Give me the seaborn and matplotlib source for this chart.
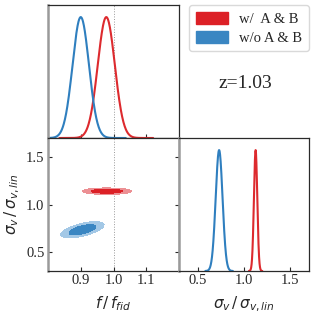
import numpy as np
import pandas as pd
import matplotlib
matplotlib.use("Agg")
import matplotlib.pyplot as plt
from matplotlib.patches import Patch
import seaborn as sns

# ---- data ----
series_labels = ["w/  A & B", "w/o A & B"]
line_colors = ["#dd2a2e", "#2f7fbf"]
dark_fill = ["#dc2026", "#3a86c2"]
light_fill = ["#ec9094", "#a3c8e6"]

# 1D marginals (peak position, width)
f_peak = [0.978, 0.900]
f_width = [0.026, 0.025]
sv_peak = [1.125, 0.732]
sv_width = [0.018, 0.037]

# 2D contours (centre, widths, correlation)
f_centre2d = [0.980, 0.905]
sv_centre2d = [1.140, 0.734]
f_width2d = [0.031, 0.027]
sv_width2d = [0.014, 0.035]
corr2d = [0.0, 0.6]

f_ticks = [0.9, 1.0, 1.1]
sv_ticks = [0.5, 1.0, 1.5]
f_lim = (0.8, 1.2)
sv_lim = (0.3, 1.7)
redshift_text = "z=1.03"
f_label = r"$f\,/\,f_{fid}$"
sv_label = r"$\sigma_v\,/\,\sigma_{v,lin}$"

# ---- style ----
sns.set_style("ticks")
plt.rcParams["font.family"] = ["Liberation Serif", "DejaVu Serif"]
plt.rcParams["mathtext.fontset"] = "dejavusans"

fig = plt.figure(figsize=(3.16, 3.17), dpi=100)
W, H = 316, 317
def rect(x0, y0, x1, y1):
    return [x0 / W, 1 - y1 / H, (x1 - x0) / W, (y1 - y0) / H]

ax_f = fig.add_axes(rect(48, 5, 179, 138))
ax_2d = fig.add_axes(rect(48, 138, 179, 271))
ax_sv = fig.add_axes(rect(179, 138, 309, 271))

def gauss(x, m, s):
    return np.exp(-0.5 * ((x - m) / s) ** 2)

# top-left: f marginal
rows = []
for lab, m, s in zip(series_labels, f_peak, f_width):
    x = np.linspace(m - 5.5 * s, m + 5.5 * s, 300)
    rows.append(pd.DataFrame({"x": x, "y": gauss(x, m, s), "series": lab}))
df_f = pd.concat(rows)
sns.lineplot(data=df_f, x="x", y="y", hue="series", palette=line_colors,
             hue_order=series_labels, lw=1.5, ax=ax_f, legend=False)
ax_f.set_xlim(*f_lim)
ax_f.set_ylim(0, 1.1)
ax_f.axvline(1.0, color="#999999", lw=0.7, ls=":", zorder=0)

# bottom-right: sigma_v marginal
rows = []
for lab, m, s in zip(series_labels, sv_peak, sv_width):
    x = np.linspace(m - 4 * s, m + 4 * s, 300)
    rows.append(pd.DataFrame({"x": x, "y": gauss(x, m, s), "series": lab}))
df_sv = pd.concat(rows)
sns.lineplot(data=df_sv, x="x", y="y", hue="series", palette=line_colors,
             hue_order=series_labels, lw=1.5, ax=ax_sv, legend=False)
ax_sv.set_xlim(*sv_lim)
ax_sv.set_ylim(0, 1.1)

# bottom-left: 2D contours
fx = np.linspace(*f_lim, 400)
sy = np.linspace(*sv_lim, 400)
FX, SY = np.meshgrid(fx, sy)
for i in range(2):
    dx = (FX - f_centre2d[i]) / f_width2d[i]
    dy = (SY - sv_centre2d[i]) / sv_width2d[i]
    r = corr2d[i]
    chi2 = (dx ** 2 - 2 * r * dx * dy + dy ** 2) / (1 - r ** 2)
    ax_2d.contourf(FX, SY, chi2, levels=[2.30, 5.99], colors=[light_fill[i]])
    ax_2d.contourf(FX, SY, chi2, levels=[0, 2.30], colors=[dark_fill[i]])
ax_2d.axvline(1.0, color="#999999", lw=0.7, ls=":", zorder=0)
ax_2d.set_xlim(*f_lim)
ax_2d.set_ylim(*sv_lim)

# ticks and spines
for ax in (ax_f, ax_2d, ax_sv):
    ax.set_xlabel("")
    ax.set_ylabel("")
    for s in ax.spines.values():
        s.set_visible(True)
        s.set_color("#2a2a2a")
        s.set_linewidth(0.9)
    ax.spines["left"].set_color("#9a9a9a")
    ax.spines["left"].set_linewidth(1.8)
    ax.tick_params(direction="in", length=3, width=0.8, color="#2a2a2a",
                   labelsize=10.5, pad=2.5)

ax_f.set_xticks(f_ticks)
ax_f.set_xticklabels([])
ax_f.set_yticks([])

ax_2d.set_xticks(f_ticks)
ax_2d.set_xticklabels([f"{t:.1f}" for t in f_ticks])
ax_2d.set_yticks(sv_ticks)
ax_2d.set_yticklabels([f"{t:.1f}" for t in sv_ticks])
ax_2d.tick_params(axis="y", right=True)

ax_sv.set_xticks(sv_ticks)
ax_sv.set_xticklabels([f"{t:.1f}" for t in sv_ticks])
ax_sv.set_yticks([])

ax_2d.set_xlabel(f_label, fontsize=11, labelpad=5)
ax_2d.set_ylabel(sv_label, fontsize=11, labelpad=3)
ax_sv.set_xlabel(sv_label, fontsize=11, labelpad=5)

# legend and redshift text
handles = [Patch(facecolor=c, edgecolor=c) for c in dark_fill]
fig.legend(handles, series_labels, loc="upper right",
           bbox_to_anchor=(309 / W, 1 - 5 / H), fontsize=10.5,
           frameon=True, fancybox=True, edgecolor="#d0d0d0",
           handlelength=2.2, handleheight=0.9, borderpad=0.45,
           labelspacing=0.35, handletextpad=0.8, borderaxespad=0)
fig.text(245 / W, 1 - 84 / H, redshift_text, fontsize=14,
         ha="center", va="center")

fig.savefig("out.png", dpi=100)
